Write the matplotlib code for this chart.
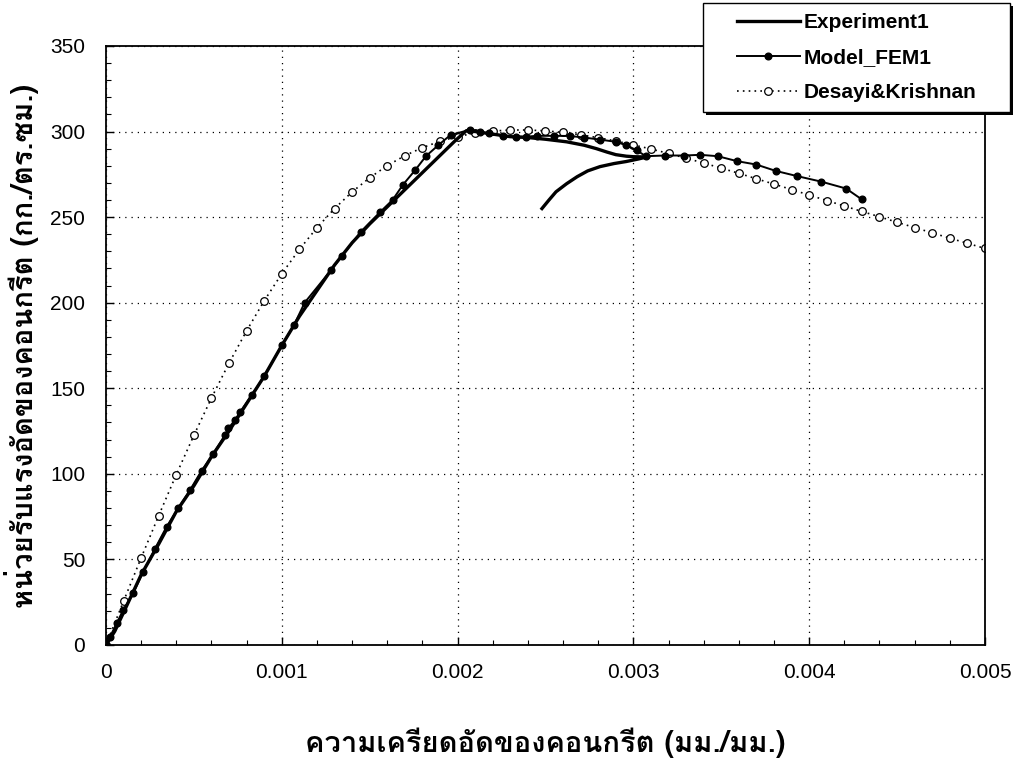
import matplotlib
matplotlib.use("Agg")
import matplotlib.pyplot as plt
import matplotlib.font_manager as fm
from matplotlib.ft2font import FT2Font
from matplotlib.patches import Rectangle
from matplotlib.ticker import MultipleLocator, FuncFormatter

# strain (mm/mm) vs. compressive stress (ksc)
exp_strain = [0, 0.00005, 0.0001, 0.0002, 0.0003, 0.0004, 0.0005, 0.0006, 0.0007,
              0.0008, 0.0009, 0.001, 0.0011, 0.0012, 0.0013, 0.0014, 0.0015, 0.0016,
              0.00172, 0.00186, 0.00199, 0.00205, 0.0021, 0.0022, 0.0023, 0.0024,
              0.0025, 0.00262, 0.00272, 0.00279, 0.00285, 0.0029, 0.00296, 0.003,
              0.00305, 0.00309, 0.00303, 0.00296, 0.00289, 0.00281, 0.00274, 0.00268,
              0.00262, 0.00256, 0.00252, 0.00248]
exp_stress = [0, 8, 19, 41, 59, 78, 93, 110, 125,
              141, 157, 175, 192, 207, 222, 235, 246, 256,
              268, 282, 295, 300.5, 300, 298.5, 297, 296.5,
              295.5, 294, 292, 290, 288, 286.5, 285.6, 285.3,
              285.2, 285.5, 284, 282.5, 281.3, 279.5, 277, 273.6,
              269.5, 264.8, 260, 255]

fem_strain = [0, 0.000023, 0.000061, 0.000098, 0.000155, 0.000212, 0.000279, 0.000345,
              0.000411, 0.000478, 0.000544, 0.00061, 0.000677, 0.000696, 0.000734,
              0.000762, 0.000829, 0.0009, 0.001, 0.00107, 0.00113, 0.00128, 0.00134,
              0.00145, 0.00156, 0.00163, 0.00169, 0.00176, 0.00182, 0.00189, 0.00196,
              0.00207, 0.00213, 0.00218, 0.00226, 0.00233, 0.00239, 0.00245, 0.00255,
              0.00264, 0.00272, 0.00281, 0.0029, 0.00296, 0.00302, 0.00307, 0.00318,
              0.00329, 0.00338, 0.00348, 0.00359, 0.0037, 0.00381, 0.00393, 0.00407,
              0.00421, 0.0043]
fem_stress = [0, 4.8, 12.7, 20.4, 30.2, 42.8, 56.3, 69.1,
              79.9, 90.5, 101.9, 111.6, 122.7, 126.6, 131.4,
              136, 146, 157, 175, 187, 200, 219, 227,
              241.5, 253, 260, 269, 277.6, 285.6, 292, 298,
              301, 299.5, 299, 297.5, 297, 297, 297.5, 297.5,
              297.4, 296.5, 295.3, 294, 292, 289, 285.6, 286,
              286, 286.4, 285.6, 282.7, 280.7, 277, 274, 270.7,
              266.7, 260.3]

dk_strain = [i / 10000 for i in range(51)]
dk_stress = [0, 25.6, 50.9, 75.6, 99.6, 122.5, 144.3, 164.7, 183.6, 201.1,
             216.9, 231.1, 243.8, 255.0, 264.7, 273.0, 280.1, 285.9, 290.6, 294.3,
             297.1, 299.1, 300.3, 300.9, 300.9, 300.4, 299.5, 298.1, 296.4, 294.5,
             292.2, 289.8, 287.2, 284.4, 281.6, 278.6, 275.6, 272.4, 269.3, 266.1,
             262.9, 259.7, 256.5, 253.3, 250.2, 247.0, 243.9, 240.8, 237.7, 234.7,
             231.7]

x_label = "ความเครียดอัดของคอนกรีต (มม./มม.)"
y_label = "หน่วยรับแรงอัดของคอนกรีต (กก./ตร.ซม.)"
legend_labels = ["Experiment1", "Model_FEM1", "Desayi&Krishnan"]


def find_thai_family():
    # first installed font that has a Thai glyph
    for f in fm.fontManager.ttflist:
        try:
            if 0x0E04 in FT2Font(f.fname).get_charmap():
                return f.name
        except Exception:
            pass
    return None


thai = find_thai_family()
label_family = [thai, "Liberation Sans", "DejaVu Sans"] if thai else ["Liberation Sans", "DejaVu Sans"]

plt.rcParams["font.family"] = ["Liberation Sans", "DejaVu Sans"]

W, H = 1021, 774
fig = plt.figure(figsize=(W / 100, H / 100), dpi=100)
ax = fig.add_axes([0.1038, 0.1667, 0.8609, 0.7739])

ax.plot(exp_strain, exp_stress, color="black", linewidth=2.4, label=legend_labels[0], zorder=3)
ax.plot(fem_strain, fem_stress, color="black", linewidth=1.4, marker="o", markersize=4.8,
        label=legend_labels[1], zorder=4)
ax.plot(dk_strain, dk_stress, color="black", linewidth=1.2, linestyle=(0, (1, 2.5)),
        marker="o", markersize=5.5, markerfacecolor="white", markeredgewidth=0.9,
        label=legend_labels[2], zorder=2)

ax.set_xlim(0, 0.005)
ax.set_ylim(0, 350)
ax.xaxis.set_major_locator(MultipleLocator(0.001))
ax.xaxis.set_minor_locator(MultipleLocator(0.0002))
ax.yaxis.set_major_locator(MultipleLocator(50))
ax.yaxis.set_minor_locator(MultipleLocator(10))
ax.xaxis.set_major_formatter(FuncFormatter(lambda v, p: "0" if abs(v) < 1e-9 else "%.3f" % v))

ax.tick_params(which="major", direction="in", length=6, width=1, labelsize=15, pad=13,
               top=False, right=False)
ax.tick_params(which="minor", direction="in", length=3.5, width=0.8, top=False, right=False)
ax.tick_params(axis="y", which="major", pad=15)

ax.grid(True, which="major", color="black", linestyle=(0, (1, 4)), linewidth=0.9)
for s in ax.spines.values():
    s.set_linewidth(1.3)

ax.set_xlabel(x_label, family=label_family, fontsize=21, fontweight="bold", labelpad=33)
ax.set_ylabel(y_label, family=label_family, fontsize=21, fontweight="bold", labelpad=8)

# legend box drawn separately: Excel style has wide side padding and a drop shadow
shadow = Rectangle((706 / W, 1 - 115 / H), 307 / W, 109 / H, transform=fig.transFigure,
                   facecolor="black", edgecolor="black", linewidth=0, zorder=4.9)
box = Rectangle((703 / W, 1 - 112 / H), 307 / W, 109 / H, transform=fig.transFigure,
                facecolor="white", edgecolor="black", linewidth=1.0, zorder=5)
fig.add_artist(shadow)
fig.add_artist(box)

leg = fig.legend(loc="upper left", bbox_to_anchor=(737 / W, 1 - 13 / H),
                 prop={"weight": "bold", "size": 15}, frameon=False,
                 handlelength=3.0, borderpad=0, labelspacing=0.78,
                 handletextpad=0.2, borderaxespad=0)
leg.set_zorder(6)

fig.savefig("out.png", dpi=100)
